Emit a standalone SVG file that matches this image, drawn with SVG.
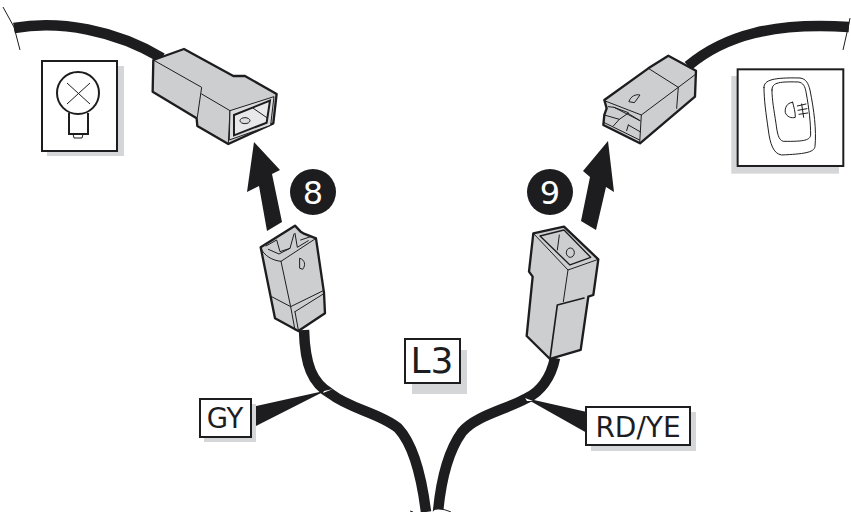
<svg xmlns="http://www.w3.org/2000/svg" width="851" height="512" viewBox="0 0 851 512">
<style>
text{font-family:"DejaVu Sans","Verdana",sans-serif;fill:#1d1d1f}
.k{fill:#1d1d1f}
.sh{fill:#d5d6d8}
.box{fill:#fff;stroke:#1d1d1f;stroke-width:2}
.body{fill:#cdced0;stroke:#1d1d1f;stroke-width:7;stroke-linejoin:round}
.ln{fill:none;stroke:#1d1d1f;stroke-width:3;stroke-linejoin:round;stroke-linecap:round}
.ln2{fill:none;stroke:#1d1d1f;stroke-width:5;stroke-linejoin:round;stroke-linecap:round}
.hair{fill:none;stroke:#1d1d1f;stroke-width:1}
.w{fill:#fff}
.wire{fill:none;stroke:#1d1d1f;stroke-width:10.5}
</style>
<g id="connectors">
<path class="wire" d="M14 28C60 20 115 30 162 58"/>
<path class="wire" d="M688 66C725 35 775 22 849 27"/>
<path class="wire" d="M304 330C305 365 312 383 331 394C350 409 380 413 398 428C414 445 422 480 426 512"/>
<path class="wire" d="M555 358C551 378 540 392 527 398C505 410 475 416 462 432C449 450 441 480 438 512"/>
<path class="hair" d="M3 7L14 27L20 50"/>
<path class="hair" d="M850 18L848 28L843 50"/>
<path class="k" d="M254 142L280 170L272 174L282 222L267 231L259 186L247 192Z"/>
<path class="k" d="M608 141L614 192L606 187L596 230L581 221L590 177L583 171Z"/>
<path class="k" d="M252 407L252 428L323 392L333 389Z"/>
<path class="k" d="M587 412L587 433L525 398Z"/>
<path class="w" d="M323 393L333 389L324 391Z"/>
<path class="w" d="M525 398L533 401L527 401Z"/>
</g>
<g id="bulb-icon">
<rect class="sh" x="47" y="66" width="77" height="90"/>
<rect class="box" x="42" y="61" width="75" height="90"/>
<circle cx="78" cy="93" r="21" fill="#fff" stroke="#1d1d1f" stroke-width="2"/>
<path class="hair" d="M67 83L90 104M90 83L67 104"/>
<path d="M69 113V134H88V113" fill="none" stroke="#1d1d1f" stroke-width="2"/>
<path class="hair" d="M73 134L74 138H82L83 134"/>
</g>
<g id="switch-icon" transform="translate(560 0) scale(.3333)">
<rect class="sh" x="514" y="228" width="323" height="293"/>
<rect x="533" y="208" width="317" height="290" fill="#fff" stroke="#1d1d1f" stroke-width="6"/>
<path class="ln" d="M612 262C612 240 640 232 720 234C738 236 745 250 750 270C762 330 770 390 765 440C762 458 730 462 665 465C640 462 630 430 625 390C618 340 612 300 612 262Z"/>
<path class="ln" d="M636 270C636 250 650 244 715 246C730 248 735 260 738 275C748 330 752 370 752 405C750 420 735 425 670 424C655 420 652 400 648 370C642 330 636 300 636 270Z"/>
<path class="ln" d="M698 307C680 308 674 325 676 338C680 350 695 356 706 352C706 335 702 322 698 307Z"/>
<path class="ln" d="M712 318L738 312M714 331L741 326M717 343L743 339M725 312L731 352"/>
</g>
<g id="connector-top-left" transform="scale(.3333)">
<path class="body" d="M460 180L552 147L700 228L735 228L830 282L820 370L685 432L592 378L590 355L458 275Z"/>
<path class="ln" d="M460 180L605 262L592 352M605 282L690 332L685 430"/>
<path d="M690 332L822 290L812 376L688 420Z" fill="#dcdcde" stroke="#1d1d1f" stroke-width="3"/>
<path d="M702 345L810 302L800 368L702 406Z" fill="#e8e8ea" stroke="#1d1d1f" stroke-width="6"/>
<path class="ln" d="M760 325L802 354"/>
<ellipse cx="735" cy="362" rx="15" ry="9" fill="#dcdcde" stroke="#1d1d1f" stroke-width="3"/>
</g>
<g id="connector-top-right" transform="translate(560 0) scale(.3333)">
<path class="body" d="M133 300L265 205L325 167L408 212L405 290L240 430L130 375L133 345L140 325Z"/>
<path class="ln" d="M265 205L355 262L408 222M355 262L350 325M244 345L355 262"/>
<path class="ln" d="M133 302L244 345L239 430M145 320L162 322L240 362M133 345L178 358L204 340L240 362M162 322L205 338M178 358L160 378M133 368L239 420M205 375L200 392M205 375L240 395"/>
<path class="ln" d="M207 304C212 288 228 282 240 285L224 307Z"/>
</g>
<g id="connector-8" transform="translate(180 170) scale(.3333)">
<path class="body" d="M242 232L345 167L362 185L370 190L408 205L432 368L435 430L355 483L285 445L272 380Z"/>
<path class="ln" d="M242 232C250 258 280 272 303 274L408 205"/>
<path class="ln" d="M258 228L290 210L300 245L330 235L342 192M345 190L352 232L385 212M362 210L392 200M265 238L297 252L330 235"/>
<path class="ln" d="M303 274L332 410L345 480M275 380L332 410L430 362M345 425L430 372M345 425L355 480"/>
<path class="ln" d="M360 265C375 270 378 285 368 298L360 295Z"/>
</g>
<g id="connector-9" transform="translate(500 120) scale(.3333)">
<path class="body" d="M100 340L192 320L295 418L280 525L265 530L242 690L150 717L80 648L98 470L87 455Z"/>
<path class="ln" d="M100 340L204 450L295 418M204 450L190 545"/>
<path fill="none" stroke="#1d1d1f" stroke-width="4" stroke-linejoin="round" d="M120 348L192 330L272 412L210 435Z"/>
<path class="ln" d="M178 345L172 390"/>
<ellipse cx="211" cy="398" rx="12" ry="14" fill="#cdced0" stroke="#1d1d1f" stroke-width="3"/>
<path class="ln2" d="M172 555L252 534M172 555L150 717"/>
</g>
<g id="step-8">
<circle class="k" cx="313" cy="192" r="23"/>
<text x="313" y="204" font-size="32" text-anchor="middle" style="fill:#fff">8</text>
</g>
<g id="step-9">
<circle class="k" cx="550" cy="192" r="23"/>
<text x="550" y="204" font-size="32" text-anchor="middle" style="fill:#fff">9</text>
</g>
<g id="label-L3">
<rect class="sh" x="412" y="350" width="55" height="44"/>
<rect class="box" x="405" y="339" width="55" height="44"/>
<text x="432" y="373" font-size="36" text-anchor="middle">L3</text>
</g>
<g id="label-GY">
<rect class="sh" x="204" y="404" width="52" height="38"/>
<rect class="box" x="200" y="399" width="51" height="38"/>
<text x="225" y="428" font-size="27.5" text-anchor="middle">GY</text>
</g>
<g id="label-RDYE">
<rect class="sh" x="591" y="412" width="105" height="39"/>
<rect class="box" x="586" y="407" width="104" height="38"/>
<text x="638" y="437" font-size="28" text-anchor="middle">RD/YE</text>
</g>
<g id="junction">
<path class="w" d="M433 512C434 509 440 508 447 512Z"/>
<path d="M410 511L413 512M436 509C440 508 446 510 451 512" class="hair"/>
</g>
</svg>
